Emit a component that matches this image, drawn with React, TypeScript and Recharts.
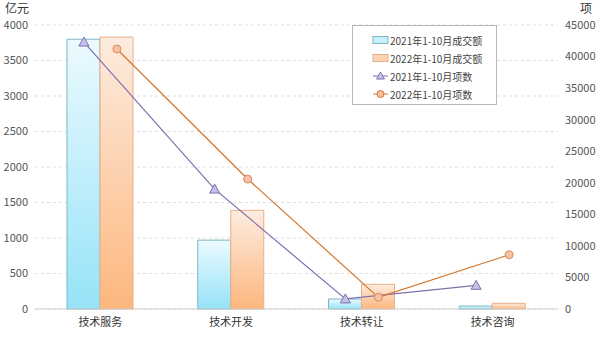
import React from 'react';
import {
  ComposedChart,
  Bar,
  Line,
  XAxis,
  YAxis,
  CartesianGrid,
} from 'recharts';

const categories = ['技术服务', '技术开发', '技术转让', '技术咨询'];
const amount2021 = [3800, 970, 141, 42];
const amount2022 = [3830, 1390, 348, 80];
const count2021 = [42300, 19000, 1600, 3750];
const count2022 = [41200, 20600, 1850, 8600];
const leftTicks = [0, 500, 1000, 1500, 2000, 2500, 3000, 3500, 4000];
const rightTicks = [0, 5000, 10000, 15000, 20000, 25000, 30000, 35000, 40000, 45000];

const data = categories.map((name, i) => ({
  name,
  amount2021: amount2021[i],
  amount2022: amount2022[i],
  count2021: count2021[i],
  count2022: count2022[i],
}));

const FONT = '"Noto Sans CJK SC", "Noto Sans", sans-serif';
const PURPLE = '#7f6fae';
const BROWN = '#d2762c';
const HALF_BAR = 16.5;

const Triangle = (props: any) => {
  const { cx, cy } = props;
  if (cx == null || cy == null) return null;
  return (
    <polygon
      points={`${cx},${cy - 5} ${cx - 5},${cy + 4} ${cx + 5},${cy + 4}`}
      fill="#c9c0ea"
      stroke={PURPLE}
      strokeWidth={1}
    />
  );
};

const legendItems = [
  { label: '2021年1-10月成交额', kind: 'bar', fill: '#c6f0fb', stroke: '#7ab8c4' },
  { label: '2022年1-10月成交额', kind: 'bar', fill: '#fdd3b3', stroke: '#e8b08a' },
  { label: '2021年1-10月项数', kind: 'tri', fill: '#c9c0ea', stroke: PURPLE },
  { label: '2022年1-10月项数', kind: 'dot', fill: '#f7c2a4', stroke: BROWN },
];

const LegendBox = () => (
  <div
    style={{
      position: 'absolute',
      left: 352,
      top: 25,
      width: 145,
      height: 80,
      boxSizing: 'border-box',
      border: '1px solid #b8b8b8',
      background: '#fff',
      fontFamily: FONT,
      fontSize: 10,
      color: '#444',
      paddingTop: 5,
    }}
  >
    {legendItems.map((it) => (
      <div key={it.label} style={{ display: 'flex', alignItems: 'center', height: 18, paddingLeft: 19 }}>
        <svg width={17} height={12} style={{ marginRight: 1 }}>
          {it.kind === 'bar' && (
            <rect x={1} y={2.5} width={15} height={7} fill={it.fill} stroke={it.stroke} />
          )}
          {it.kind !== 'bar' && <line x1={1} x2={16} y1={6} y2={6} stroke={it.stroke} strokeWidth={1} />}
          {it.kind === 'tri' && (
            <polygon points="8.5,2 4.5,9 12.5,9" fill={it.fill} stroke={it.stroke} />
          )}
          {it.kind === 'dot' && <circle cx={8.5} cy={6} r={3.5} fill={it.fill} stroke={it.stroke} />}
        </svg>
        <span>{it.label}</span>
      </div>
    ))}
  </div>
);

export default function App() {
  return (
    <div style={{ position: 'absolute', left: 0, top: 0, width: 600, height: 337, background: '#fff' }}>
      <ComposedChart
        width={600}
        height={337}
        data={data}
        margin={{ top: 25, right: 0, bottom: 0, left: 0 }}
        barGap={0}
        style={{ fontFamily: FONT }}
      >
        <defs>
          <linearGradient id="blueFill" x1="0" y1="0" x2="0" y2="1">
            <stop offset="0%" stopColor="#ecfafe" />
            <stop offset="100%" stopColor="#96e3f8" />
          </linearGradient>
          <linearGradient id="orangeFill" x1="0" y1="0" x2="0" y2="1">
            <stop offset="0%" stopColor="#fdece0" />
            <stop offset="100%" stopColor="#fdb77e" />
          </linearGradient>
        </defs>
        <CartesianGrid vertical={false} yAxisId="left" stroke="#dedede" strokeDasharray="3 3" />
        <XAxis
          dataKey="name"
          height={28}
          tickLine={false}
          axisLine={{ stroke: '#cfcfcf' }}
          tick={{ fill: '#333', fontSize: 11 }}
          tickMargin={3}
        />
        <XAxis xAxisId="l21" dataKey="name" hide padding={{ left: -HALF_BAR, right: HALF_BAR }} />
        <XAxis xAxisId="l22" dataKey="name" hide padding={{ left: HALF_BAR, right: -HALF_BAR }} />
        <YAxis
          yAxisId="left"
          width={35}
          domain={[0, 4000]}
          ticks={leftTicks}
          axisLine={false}
          tickLine={false}
          tickSize={0}
          tickMargin={7}
          tick={{ fill: '#555', fontSize: 11 }}
        />
        <YAxis
          yAxisId="right"
          orientation="right"
          width={42}
          domain={[0, 45000]}
          ticks={rightTicks}
          axisLine={false}
          tickLine={false}
          tickSize={0}
          tickMargin={7}
          tick={{ fill: '#555', fontSize: 11 }}
        />
        <Bar yAxisId="left" dataKey="amount2021" barSize={33} fill="url(#blueFill)" stroke="#7ab8c4" isAnimationActive={false} />
        <Bar yAxisId="left" dataKey="amount2022" barSize={33} fill="url(#orangeFill)" stroke="#e8b08a" isAnimationActive={false} />
        <Line
          xAxisId="l21"
          yAxisId="right"
          dataKey="count2021"
          type="linear"
          stroke={PURPLE}
          strokeWidth={1.2}
          dot={<Triangle />}
          activeDot={false}
          isAnimationActive={false}
        />
        <Line
          xAxisId="l22"
          yAxisId="right"
          dataKey="count2022"
          type="linear"
          stroke={BROWN}
          strokeWidth={1.2}
          dot={{ r: 4, fill: '#f7c2a4', stroke: '#d88a5c', strokeWidth: 1 }}
          activeDot={false}
          isAnimationActive={false}
        />
      </ComposedChart>
      <div style={{ position: 'absolute', left: 5, top: 1, fontFamily: FONT, fontSize: 12, lineHeight: '14px', color: '#333' }}>亿元</div>
      <div style={{ position: 'absolute', left: 580, top: 1, width: 14, fontFamily: FONT, fontSize: 12, lineHeight: '14px', color: '#333' }}>项</div>
      <LegendBox />
    </div>
  );
}
